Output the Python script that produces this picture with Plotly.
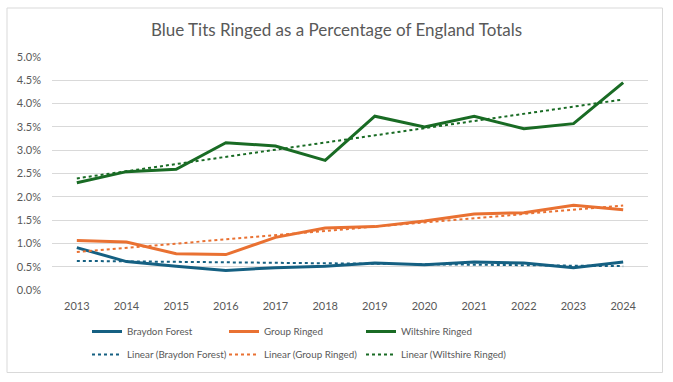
import numpy as np
import plotly.graph_objects as go

years = [2013, 2014, 2015, 2016, 2017, 2018, 2019, 2020, 2021, 2022, 2023, 2024]
braydon = [0.91, 0.61, 0.51, 0.42, 0.48, 0.51, 0.58, 0.54, 0.60, 0.58, 0.48, 0.60]
group = [1.06, 1.03, 0.78, 0.76, 1.13, 1.33, 1.36, 1.48, 1.63, 1.66, 1.82, 1.72]
wiltshire = [2.30, 2.54, 2.59, 3.16, 3.09, 2.78, 3.73, 3.50, 3.73, 3.46, 3.57, 4.45]
y_ticks = [0.0, 0.5, 1.0, 1.5, 2.0, 2.5, 3.0, 3.5, 4.0, 4.5, 5.0]

names = ["Braydon Forest", "Group Ringed", "Wiltshire Ringed"]
colors = ["#156082", "#E97132", "#196B24"]
series = [braydon, group, wiltshire]

font = "Lato, 'Open Sans', sans-serif"
cats = [str(y) for y in years]
fig = go.Figure()
legends = {}


def leg_key(k):
    return "legend" if k == 0 else f"legend{k + 1}"


def leg_cfg(col, row):
    return dict(orientation="v", x=(87 + 137 * col - 52) / 596, xanchor="left",
                y=-((332 + 23 * row) - 290.5) / 233, yanchor="middle",
                font=dict(family=font, size=9.8, color="#595959"), bgcolor="rgba(0,0,0,0)",
                itemwidth=30, tracegroupgap=0)


for i, (n, c, s) in enumerate(zip(names, colors, series)):
    key = leg_key(i)
    legends[key] = leg_cfg(i, 0)
    fig.add_trace(go.Scatter(x=cats, y=[v / 100 for v in s], mode="lines", name=n,
                             line=dict(color=c, width=3), legend=key))
idx = np.arange(len(years))
for i, (n, c, s) in enumerate(zip(names, colors, series)):
    m, b = np.polyfit(idx, s, 1)
    fit = (m * idx + b) / 100
    key = leg_key(i + 3)
    legends[key] = leg_cfg(i, 1)
    fig.add_trace(go.Scatter(x=cats, y=fit, mode="lines", name=f"Linear ({n})",
                             line=dict(color=c, width=2, dash="dot"), legend=key))

fig.update_layout(
    width=673, height=382,
    paper_bgcolor="white", plot_bgcolor="white",
    margin=dict(l=52, r=25, t=57, b=92),
    title=dict(text="Blue Tits Ringed as a Percentage of England Totals",
               x=0.5, xanchor="center", y=1 - 30 / 382, yanchor="middle",
               font=dict(family=font, size=17, color="#595959")),
    font=dict(family=font, color="#595959", size=11),
    xaxis=dict(range=[-0.5, len(years) - 0.5], showgrid=False, showline=False, ticks="",
               tickfont=dict(size=11, color="#595959"), ticklabelstandoff=8),
    yaxis=dict(range=[0, 0.05], tickvals=[v / 100 for v in y_ticks],
               ticktext=[f"{v:.1f}%" for v in y_ticks],
               gridcolor="#D9D9D9", gridwidth=1, zeroline=False, showline=False,
               tickfont=dict(size=11, color="#595959"), ticklabelstandoff=10),
    shapes=[dict(type="rect", xref="paper", yref="paper",
                 x0=(7 - 52) / 596, x1=(662.5 - 52) / 596,
                 y0=(290.5 - 373) / 233, y1=(290.5 - 8.5) / 233,
                 line=dict(color="#D9D9D9", width=1), fillcolor="rgba(0,0,0,0)", layer="below")],
    showlegend=True,
    **legends,
)
fig.write_html("out.html", config={"displayModeBar": False},
               post_script="document.body.style.margin='0';")
